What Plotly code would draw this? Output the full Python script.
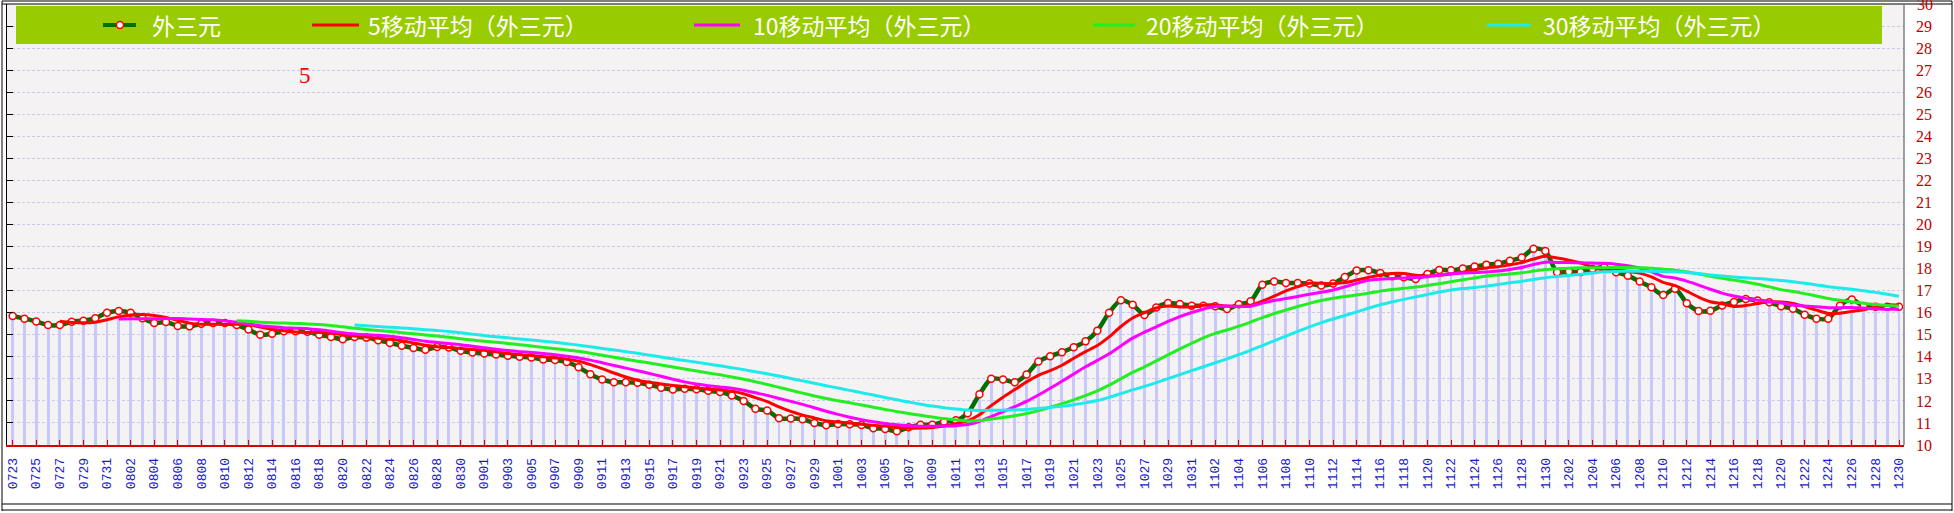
import pandas as pd
import plotly.graph_objects as go

# ---------------- data ----------------
dates = [d.strftime("%m%d") for d in pd.date_range("2023-07-23", "2023-12-30", freq="D")]

values = [
    15.85, 15.73, 15.60, 15.44, 15.44, 15.59, 15.64, 15.75, 16.00, 16.08,
    16.00, 15.75, 15.53, 15.58, 15.40, 15.38, 15.50, 15.53, 15.53, 15.44,
    15.24, 15.00, 15.05, 15.16, 15.16, 15.14, 15.00, 14.90, 14.80, 14.90,
    14.87, 14.75, 14.63, 14.50, 14.40, 14.32, 14.45, 14.42, 14.27, 14.19,
    14.15, 14.10, 14.05, 14.00, 13.97, 13.88, 13.85, 13.76, 13.53, 13.21,
    12.97, 12.85, 12.85, 12.82, 12.73, 12.60, 12.52, 12.55, 12.53, 12.46,
    12.40, 12.24, 12.00, 11.64, 11.56, 11.21, 11.20, 11.17, 11.00, 10.90,
    10.95, 10.94, 10.91, 10.76, 10.73, 10.62, 10.80, 10.92, 10.92, 11.06,
    11.12, 11.44, 12.30, 13.00, 12.97, 12.85, 13.20, 13.79, 14.03, 14.21,
    14.43, 14.70, 15.18, 16.00, 16.56, 16.36, 15.90, 16.24, 16.44, 16.39,
    16.32, 16.32, 16.29, 16.17, 16.38, 16.52, 17.27, 17.41, 17.35, 17.35,
    17.32, 17.23, 17.32, 17.62, 17.91, 17.92, 17.80, 17.65, 17.61, 17.53,
    17.76, 17.94, 17.92, 18.00, 18.10, 18.18, 18.22, 18.36, 18.50, 18.90,
    18.80, 17.84, 17.87, 17.85, 17.99, 18.06, 17.84, 17.68, 17.41, 17.15,
    16.80, 17.09, 16.43, 16.08, 16.09, 16.33, 16.49, 16.62, 16.55, 16.47,
    16.29, 16.18, 15.91, 15.73, 15.73, 16.33, 16.60, 16.30, 16.27, 16.27,
    16.27,
]
assert len(values) == len(dates)

series_name = "外三元"
ma_windows = [5, 10, 20, 30]
ma_names = ["5移动平均（外三元）", "10移动平均（外三元）", "20移动平均（外三元）", "30移动平均（外三元）"]
ma_colors = ["#FF0000", "#FF00FF", "#22EE22", "#1EEAEA"]
y_ticks = list(range(10, 31))
note_text = "5"

# ---------------- geometry ----------------
W, H = 1954, 513
L, R, T, B = 7, 50, 4, 68
PX0, PX1 = L, W - R
PY0, PY1 = T, H - B


def px(xp):
    return (xp - PX0) / (PX1 - PX0)


def py(yp):
    return (PY1 - yp) / (PY1 - PY0)


fig = go.Figure()

# stems / bars
fig.add_trace(go.Bar(x=dates, y=values, width=0.25,
                     marker=dict(color="#C8C8FA", line=dict(width=0)),
                     showlegend=False, hoverinfo="skip"))

# main series
fig.add_trace(go.Scatter(x=dates, y=values, mode="lines+markers", name=series_name,
                         line=dict(color="#006E00", width=4.5, shape="spline", smoothing=0.8),
                         marker=dict(symbol="circle", size=7, color="white",
                                     line=dict(color="#FF0000", width=1.5)),
                         showlegend=False))

s = pd.Series(values)
for w, nm, c in zip(ma_windows, ma_names, ma_colors):
    ma = s.rolling(w).mean()
    fig.add_trace(go.Scatter(x=dates, y=[None if pd.isna(v) else v for v in ma],
                             mode="lines", name=nm,
                             line=dict(color=c, width=3, shape="spline", smoothing=0.8),
                             showlegend=False))

# left black axis with inward ticks (overlay)
fig.add_trace(go.Scatter(x=[dates[0]], y=[None], yaxis="y2", showlegend=False, hoverinfo="skip"))

shapes = []
annotations = []

# legend band
shapes.append(dict(type="rect", xref="paper", yref="paper", x0=px(16), x1=px(1882), y0=py(44), y1=py(6),
                   fillcolor="#99CC00", line=dict(width=0), layer="above"))

leg_items = [
    (series_name, "#007000", 103, 136, 150),
    (ma_names[0], ma_colors[0], 312, 359, 366),
    (ma_names[1], ma_colors[1], 694, 740, 751),
    (ma_names[2], ma_colors[2], 1093, 1135, 1144),
    (ma_names[3], ma_colors[3], 1487, 1531, 1541),
]
for i, (nm, c, a, b, tx) in enumerate(leg_items):
    shapes.append(dict(type="line", xref="paper", yref="paper", x0=px(a), x1=px(b), y0=py(25), y1=py(25),
                       line=dict(color=c, width=4 if i == 0 else 3), layer="above"))
    annotations.append(dict(text=nm, xref="paper", yref="paper", x=px(tx), y=py(25),
                            xanchor="left", yanchor="middle", showarrow=False,
                            font=dict(family="Noto Sans CJK SC", size=23, color="white")))
# legend marker
shapes.append(dict(type="circle", xref="paper", yref="paper", x0=px(116.5), x1=px(123.5),
                   y0=py(28.5), y1=py(21.5), fillcolor="white", line=dict(color="#FF0000", width=1.5),
                   layer="above"))

# red "5" note
annotations.append(dict(text=note_text, xref="paper", yref="paper", x=px(305), y=py(76),
                        xanchor="center", yanchor="middle", showarrow=False,
                        font=dict(family="Liberation Serif", size=23, color="#FF0000")))

# top tick label (cut by the page edge, as in the original)
annotations.append(dict(text=str(y_ticks[-1]), xref="paper", yref="y", x=1, y=y_ticks[-1],
                        xanchor="left", yanchor="middle", xshift=11, showarrow=False,
                        font=dict(family="Liberation Serif", size=16, color="#BB0000")))

# frame lines
frame = dict(color="black", width=1)
shapes += [
    dict(type="line", xref="paper", yref="paper", x0=px(2), x1=px(2), y0=py(511), y1=py(1), line=frame),
    dict(type="line", xref="paper", yref="paper", x0=px(1952), x1=px(1952), y0=py(511), y1=py(1), line=frame),
    dict(type="line", xref="paper", yref="paper", x0=px(2), x1=px(1952), y0=py(1), y1=py(1), line=frame),
    dict(type="line", xref="paper", yref="paper", x0=px(2), x1=px(1952), y0=py(4), y1=py(4), line=frame),
    dict(type="line", xref="paper", yref="paper", x0=px(2), x1=px(1952), y0=py(504), y1=py(504), line=frame),
    dict(type="line", xref="paper", yref="paper", x0=px(2), x1=px(1952), y0=py(510), y1=py(510), line=frame),
    dict(type="line", xref="paper", yref="paper", x0=1, x1=1, y0=0, y1=1,
         line=dict(color="#808080", width=1.5)),
]

n = len(dates)
span = PX1 - PX0
step = (1899 - 12.7) / (n - 1)
x_lo = -(12.7 - PX0) / step
x_hi = x_lo + span / step

fig.update_layout(
    width=W, height=H,
    margin=dict(l=L, r=R, t=T, b=B, pad=0),
    paper_bgcolor="white",
    plot_bgcolor="#F4F2F2",
    bargap=0,
    shapes=shapes,
    annotations=annotations,
    showlegend=False,
    xaxis=dict(type="category", categoryorder="array", categoryarray=dates,
               range=[x_lo, x_hi], tickmode="array", tickvals=dates[::2], ticktext=dates[::2],
               tickangle=-90, ticks="inside", ticklen=5, tickcolor="#DD0000", tickwidth=1,
               showline=True, linecolor="#DD0000", linewidth=1.5, showgrid=False, zeroline=False,
               ticklabelstandoff=6,
               tickfont=dict(family="Liberation Mono", size=13, color="#1A1ACC")),
    yaxis=dict(range=[10, 30], side="right", tickmode="array", tickvals=y_ticks[:-1],
               ticks="", showline=False, showgrid=True, gridcolor="#C8C8F0", gridwidth=1,
               griddash="3px,2px", zeroline=False, ticklabelstandoff=11,
               tickfont=dict(family="Liberation Serif", size=16, color="#BB0000")),
    yaxis2=dict(range=[10, 30], overlaying="y", side="left", tickmode="array", tickvals=y_ticks,
                showticklabels=False, ticks="inside", ticklen=6, tickcolor="black",
                showline=True, linecolor="black", linewidth=1, showgrid=False, zeroline=False),
)

fig.write_html("out.html", config={"displayModeBar": False},
               post_script="document.body.style.margin='0';document.body.style.overflow='hidden';")
